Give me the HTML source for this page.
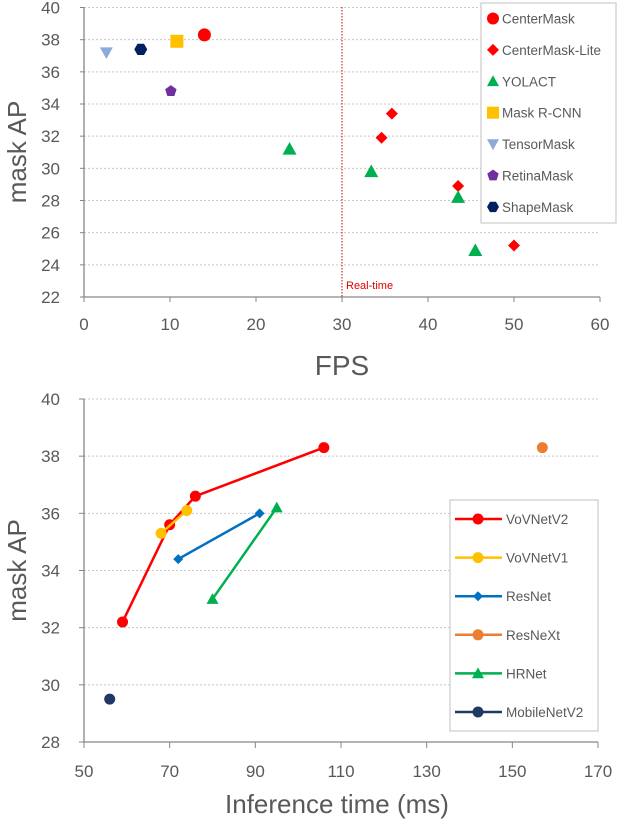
<!DOCTYPE html>
<html><head><meta charset="utf-8"><style>
html,body{margin:0;padding:0;background:#fff;}
svg{display:block;font-family:"Liberation Sans",sans-serif;}
</style></head><body>
<svg id="c" width="618" height="824" viewBox="0 0 618 824"></svg>
<script>
// ---- top chart data ----
const topXTicks=[0,10,20,30,40,50,60];
const topYTicks=[22,24,26,28,30,32,34,36,38,40];
const topNames=["CenterMask","CenterMask-Lite","YOLACT","Mask R-CNN","TensorMask","RetinaMask","ShapeMask"];
const centerMaskX=[14]; const centerMaskY=[38.3];
const liteX=[35.8,34.6,43.5,50]; const liteY=[33.4,31.9,28.9,25.2];
const yolactX=[23.9,33.4,43.5,45.5]; const yolactY=[31.2,29.8,28.2,24.9];
const maskRcnnX=[10.8]; const maskRcnnY=[37.9];
const tensorX=[2.6]; const tensorY=[37.2];
const retinaX=[10.1]; const retinaY=[34.8];
const shapeX=[6.6]; const shapeY=[37.4];
const realTime=[30];
// ---- bottom chart data ----
const botXTicks=[50,70,90,110,130,150,170];
const botYTicks=[28,30,32,34,36,38,40];
const botNames=["VoVNetV2","VoVNetV1","ResNet","ResNeXt","HRNet","MobileNetV2"];
const v2X=[59,70,76,106]; const v2Y=[32.2,35.6,36.6,38.3];
const v1X=[68,74]; const v1Y=[35.3,36.1];
const resX=[72,91]; const resY=[34.4,36.0];
const resxX=[157]; const resxY=[38.3];
const hrX=[80,95]; const hrY=[33.0,36.2];
const mobX=[56]; const mobY=[29.5];

const svg=document.getElementById('c');
const NS='http://www.w3.org/2000/svg';
function mk(tag,at,parent){const e=document.createElementNS(NS,tag);for(const k in at)e.setAttribute(k,at[k]);(parent||svg).appendChild(e);return e;}
function txt(s,at){const e=mk('text',at);e.textContent=s;return e;}

const tx=v=>84+(v-0)/60*(600-84);
const ty=v=>297-(v-22)/18*(297-7.5);
const bx=v=>84+(v-50)/120*(598-84);
const by=v=>742-(v-28)/12*(742-399);

function marker(shape,x,y,color,s){
  let e;
  if(shape==='circle') e=mk('circle',{cx:x,cy:y,r:s,fill:color});
  else if(shape==='diamond') e=mk('polygon',{points:`${x},${y-s} ${x+s},${y} ${x},${y+s} ${x-s},${y}`,fill:color});
  else if(shape==='tri') e=mk('polygon',{points:`${x},${y-s} ${x+s},${y+s*0.8} ${x-s},${y+s*0.8}`,fill:color});
  else if(shape==='square') e=mk('rect',{x:x-s,y:y-s,width:2*s,height:2*s,fill:color});
  else if(shape==='dtri') e=mk('polygon',{points:`${x-s},${y-s*0.8} ${x+s},${y-s*0.8} ${x},${y+s}`,fill:color});
  else if(shape==='pent'){let p=[];for(let i=0;i<5;i++){const a=-Math.PI/2+i*2*Math.PI/5;p.push((x+s*Math.cos(a))+','+(y+s*Math.sin(a)));}e=mk('polygon',{points:p.join(' '),fill:color});}
  else if(shape==='hex'){let p=[];for(let i=0;i<6;i++){const a=i*Math.PI/3;p.push((x+s*Math.cos(a))+','+(y+s*Math.sin(a)));}e=mk('polygon',{points:p.join(' '),fill:color});}
  return e;
}

// ---- top axes ----
topYTicks.forEach(v=>{
  if(v>22){const g=mk('line',{x1:84,x2:600,y1:ty(v),y2:ty(v),stroke:'#c8c8c8','stroke-dasharray':'2,2'});
  }
  const t=txt(v,{x:60,y:ty(v)+6,'font-size':17,fill:'#595959','text-anchor':'end'});
  
  mk('line',{x1:80,x2:84,y1:ty(v),y2:ty(v),stroke:'#868686'});
});
topXTicks.forEach(v=>{
  mk('line',{x1:tx(v),x2:tx(v),y1:297,y2:302,stroke:'#868686'});
  const t=txt(v,{x:tx(v),y:330,'font-size':17,fill:'#595959','text-anchor':'middle'});
  
});
mk('line',{x1:84,x2:84,y1:7,y2:297,stroke:'#868686','stroke-width':1.3});
mk('line',{x1:84,x2:600,y1:297,y2:297,stroke:'#868686','stroke-width':1.3});
let ax=txt('mask AP',{x:0,y:0,'font-size':26,fill:'#595959','text-anchor':'middle',transform:`translate(26,${(7+297)/2}) rotate(-90)`});

ax=txt('FPS',{x:342,y:375,'font-size':28,fill:'#595959','text-anchor':'middle'});

realTime.forEach(v=>{
  const l=mk('line',{x1:tx(v),x2:tx(v),y1:7,y2:297,stroke:'#d00000','stroke-dasharray':'1.5,1.5'});
  
  const t=txt('Real-time',{x:tx(v)+4,y:289,'font-size':11,fill:'#e00000'});
  
});
const topSeries=[
  [centerMaskX,centerMaskY,'circle','#ff0000',6.5],
  [liteX,liteY,'diamond','#ff0000',6],
  [yolactX,yolactY,'tri','#00b050',7],
  [maskRcnnX,maskRcnnY,'square','#ffc000',6.5],
  [tensorX,tensorY,'dtri','#8eaadb',6.5],
  [retinaX,retinaY,'pent','#7030a0',6],
  [shapeX,shapeY,'hex','#002060',6.5]];
topSeries.forEach((s,si)=>{
  s[0].forEach((xv,i)=>{const m=marker(s[2],tx(xv),ty(s[1][i]),s[3],s[4]);
    
    });
});
// top legend
const tl=mk('rect',{x:481,y:3,width:135,height:220,fill:'#fff',stroke:'#d0d0d0','stroke-width':1.3});

topSeries.forEach((s,i)=>{
  const y=18.5+i*31.4;
  const m=marker(s[2],493,y,s[3],Math.min(s[4],6));
  
  const t=txt(topNames[i],{x:502,y:y+5,'font-size':13.5,fill:'#595959'});
  
});

// ---- bottom axes ----
botYTicks.forEach(v=>{
  if(v>28){const g=mk('line',{x1:84,x2:598,y1:by(v),y2:by(v),stroke:'#c8c8c8','stroke-dasharray':'2,2'});
  }
  const t=txt(v,{x:60,y:by(v)+6,'font-size':17,fill:'#595959','text-anchor':'end'});
  
  mk('line',{x1:79,x2:84,y1:by(v),y2:by(v),stroke:'#868686'});
});
botXTicks.forEach(v=>{
  mk('line',{x1:bx(v),x2:bx(v),y1:742,y2:748,stroke:'#868686'});
  const t=txt(v,{x:bx(v),y:777,'font-size':17,fill:'#595959','text-anchor':'middle'});
  
});
mk('line',{x1:84,x2:84,y1:399,y2:742,stroke:'#868686','stroke-width':1.3});
mk('line',{x1:84,x2:598,y1:742,y2:742,stroke:'#868686','stroke-width':1.3});
ax=txt('mask AP',{x:0,y:0,'font-size':26,fill:'#595959','text-anchor':'middle',transform:`translate(26,${(399+742)/2}) rotate(-90)`});

ax=txt('Inference time (ms)',{x:337,y:813,'font-size':26,fill:'#595959','text-anchor':'middle'});


const botSeries=[
  [v2X,v2Y,'circle','#ff0000',5.5],
  [v1X,v1Y,'circle','#ffc000',5.5],
  [resX,resY,'diamond','#0070c0',5],
  [resxX,resxY,'circle','#ed7d31',5.5],
  [hrX,hrY,'tri','#00b050',6],
  [mobX,mobY,'circle','#203864',5.5]];
botSeries.forEach((s,si)=>{
  if(s[0].length>1){
    const pl=mk('polyline',{points:s[0].map((xv,i)=>bx(xv)+','+by(s[1][i])).join(' '),fill:'none',stroke:s[3],'stroke-width':2.5});
    
  }
  s[0].forEach((xv,i)=>{const m=marker(s[2],bx(xv),by(s[1][i]),s[3],s[4]);
    });
});
const bl=mk('rect',{x:450,y:500,width:148,height:231,fill:'#fff',stroke:'#d0d0d0','stroke-width':1.3});

botSeries.forEach((s,i)=>{
  const y=519+i*38.6;
  const l=mk('line',{x1:455,x2:502,y1:y,y2:y,stroke:s[3],'stroke-width':2.5});
  
  const m=marker(s[2],478,y,s[3],s[4]);
  
  const t=txt(botNames[i],{x:506,y:y+5,'font-size':13.5,fill:'#595959'});
  
});
</script>
</body></html>
